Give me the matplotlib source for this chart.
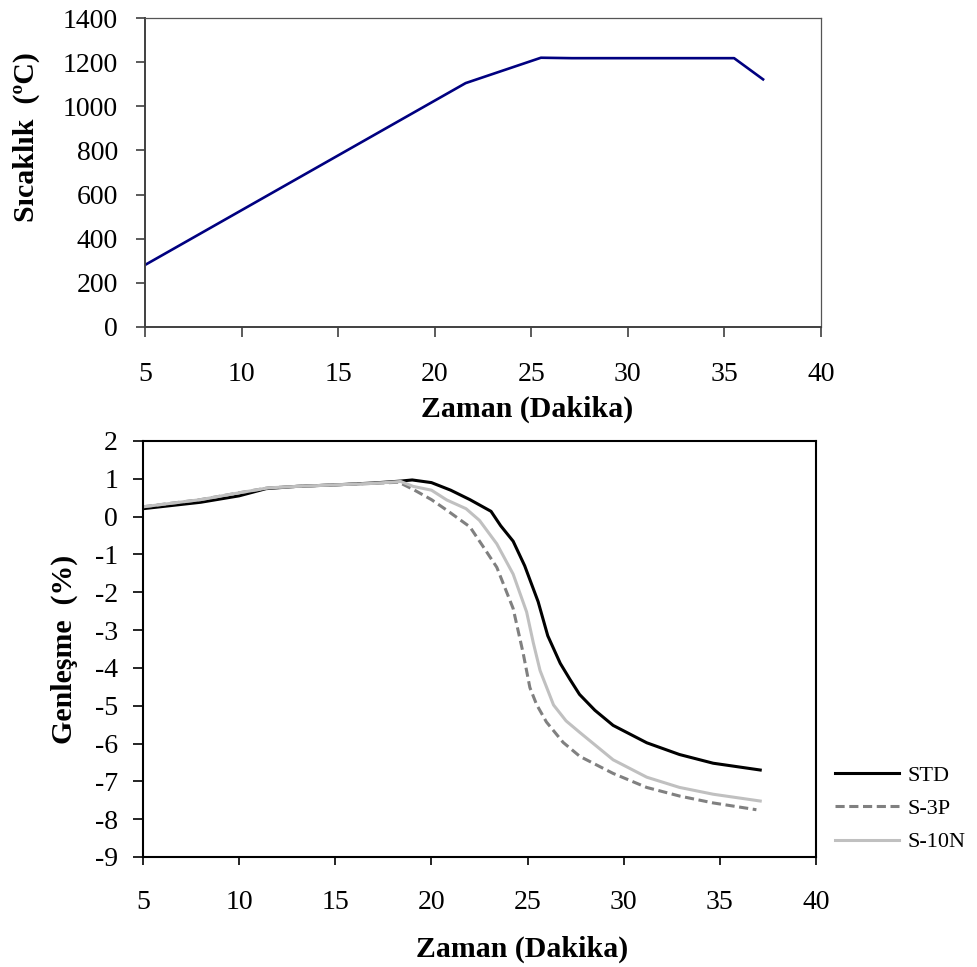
import matplotlib
matplotlib.use("Agg")
import matplotlib.pyplot as plt

plt.rcParams['font.family'] = ['Liberation Serif', 'DejaVu Serif']
plt.rcParams['axes.unicode_minus'] = False

# ust grafik: sicaklik programi
t_time = [5, 21.6, 25.5, 27.1, 35.5, 37.0]
t_temp = [281, 1105, 1220, 1218, 1218, 1122]

# alt grafik: genlesme egrileri
std_x = [5, 8, 10, 11.4, 13, 15, 17, 18.4, 19.0, 20.0, 21.0, 22.0, 23.1, 23.6, 24.25,
         24.85, 25.55, 26.05, 26.7, 27.2, 27.7, 28.5, 29.45, 31.2, 32.9, 34.65, 37.1]
std_y = [0.21, 0.38, 0.55, 0.74, 0.80, 0.84, 0.89, 0.94, 0.97, 0.90, 0.70, 0.45, 0.14, -0.24, -0.65,
         -1.3, -2.25, -3.15, -3.88, -4.3, -4.70, -5.12, -5.52, -5.98, -6.29, -6.52, -6.70]

s3p_x = [5, 8, 10, 11.5, 13, 15, 17, 18.3, 19.05, 20.0, 20.8, 22.0, 22.7, 23.4, 24.25,
         24.77, 25.12, 25.47, 25.98, 26.85, 27.72, 29.45, 31.19, 32.92, 34.65, 36.9]
s3p_y = [0.26, 0.45, 0.63, 0.76, 0.80, 0.84, 0.88, 0.91, 0.72, 0.45, 0.17, -0.27, -0.80, -1.34, -2.43,
         -3.61, -4.52, -4.97, -5.43, -5.97, -6.34, -6.79, -7.16, -7.39, -7.57, -7.75]

s10n_x = [5, 8, 10, 11.5, 13, 15, 17, 18.4, 19.05, 20.0, 20.8, 21.8, 22.5, 23.4, 24.25,
          24.95, 25.3, 25.65, 26.35, 27.0, 27.7, 29.45, 31.2, 32.9, 34.65, 37.1]
s10n_y = [0.26, 0.45, 0.63, 0.76, 0.80, 0.84, 0.88, 0.93, 0.80, 0.70, 0.44, 0.21, -0.10, -0.72, -1.52,
          -2.52, -3.34, -4.07, -4.98, -5.4, -5.70, -6.43, -6.89, -7.16, -7.34, -7.52]

fig = plt.figure(figsize=(9.78, 9.67), dpi=100)

# ---- top ----
ax1 = fig.add_axes([145/978, 1-327/967, 676/978, 309/967])
ax1.plot(t_time, t_temp, color='#000080', lw=1.9)
ax1.set_xlim(5, 40)
ax1.set_ylim(0, 1400)
ax1.set_xticks(range(5, 41, 5))
ax1.set_yticks(range(0, 1401, 200))
for s in ['left', 'bottom']:
    ax1.spines[s].set_color('#404040')
    ax1.spines[s].set_linewidth(1.4)
for s in ['top', 'right']:
    ax1.spines[s].set_color('#555555')
    ax1.spines[s].set_linewidth(0.9)
ax1.tick_params(axis='x', direction='out', length=7, width=1.2, color='#404040', labelsize=20, pad=18)
ax1.tick_params(axis='y', direction='out', length=6.5, width=1.2, color='#404040', labelsize=20, pad=13)
ax1.set_ylabel('Sıcaklık  (ºC)', fontsize=21.5, fontweight='bold')
ax1.yaxis.set_label_coords(-0.155, 0.615)
ax1.set_xlabel('Zaman (Dakika)', fontsize=21.5, fontweight='bold')
ax1.xaxis.set_label_coords(0.565, -0.223)

# ---- bottom ----
ax2 = fig.add_axes([143/978, 1-857/967, 673/978, 416/967])
ax2.plot(std_x, std_y, color='black', lw=2.2, label='STD')
ax2.plot(s3p_x, s3p_y, color='#808080', lw=2.2, ls=(0, (3, 1.5)), label='S-3P')
ax2.plot(s10n_x, s10n_y, color='#c0c0c0', lw=2.2, label='S-10N')
ax2.set_xlim(5, 40)
ax2.set_ylim(-9, 2)
ax2.set_xticks(range(5, 41, 5))
ax2.set_yticks(range(-9, 3))
for s in ax2.spines.values():
    s.set_color('black')
    s.set_linewidth(1.5)
ax2.tick_params(axis='x', direction='out', length=6, width=1.2, labelsize=20, pad=18)
ax2.tick_params(axis='y', direction='out', length=7, width=1.2, labelsize=20, pad=11)
ax2.set_ylabel('Genleşme  (%)', fontsize=21.5, fontweight='bold')
ax2.yaxis.set_label_coords(-0.097, 0.5)
ax2.set_xlabel('Zaman (Dakika)', fontsize=21.5, fontweight='bold')
ax2.xaxis.set_label_coords(0.563, -0.19)

fig.legend(loc='upper left', bbox_to_anchor=(835/978, 1-765/967), frameon=False,
           fontsize=16, handlelength=2.9, handletextpad=0.36, labelspacing=0.58,
           borderpad=0, borderaxespad=0)

plt.savefig('out.png', dpi=100)
plt.close(fig)
